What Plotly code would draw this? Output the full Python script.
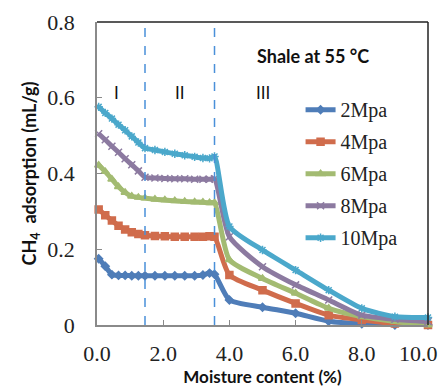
import plotly.graph_objects as go

# ---------------- data ----------------
x_low = [0.05, 0.25, 0.45, 0.65, 0.85, 1.05, 1.25, 1.45, 1.75, 2.05, 2.35, 2.65, 2.95, 3.2, 3.4, 3.55]
x_high = [4.0, 5.0, 6.0, 7.0, 8.0, 9.0, 10.0]

y_2 = [0.175, 0.155, 0.133, 0.131, 0.131, 0.13, 0.13, 0.13, 0.13, 0.13, 0.13, 0.13, 0.13, 0.132, 0.137, 0.134,
       0.066, 0.047, 0.031, 0.010, 0.003, 0.0, 0.0]
y_4 = [0.305, 0.29, 0.276, 0.262, 0.252, 0.245, 0.240, 0.237, 0.235, 0.234, 0.233, 0.233, 0.233, 0.233, 0.234, 0.233,
       0.132, 0.092, 0.057, 0.026, 0.013, 0.004, 0.0]
y_6 = [0.422, 0.405, 0.385, 0.365, 0.350, 0.340, 0.337, 0.335, 0.332, 0.330, 0.328, 0.326, 0.325, 0.324, 0.323, 0.323,
       0.172, 0.123, 0.084, 0.044, 0.022, 0.009, 0.0]
y_8 = [0.505, 0.489, 0.472, 0.456, 0.439, 0.423, 0.407, 0.390, 0.388, 0.387, 0.386, 0.386, 0.385, 0.385, 0.385, 0.386,
       0.233, 0.154, 0.106, 0.066, 0.026, 0.015, 0.009]
y_10 = [0.576, 0.560, 0.545, 0.529, 0.514, 0.498, 0.482, 0.467, 0.462, 0.457, 0.452, 0.448, 0.444, 0.441, 0.440, 0.445,
        0.260, 0.198, 0.145, 0.092, 0.044, 0.022, 0.020]

series_names = ["2Mpa", "4Mpa", "6Mpa", "8Mpa", "10Mpa"]
series_values = [y_2, y_4, y_6, y_8, y_10]

x_ticks = [0, 2, 4, 6, 8, 10]
x_ticklabels = ["0.0", "2.0", "4.0", "6.0", "8.0", "10.0"]
y_ticks = [0, 0.2, 0.4, 0.6, 0.8]
y_ticklabels = ["0", "0.2", "0.4", "0.6", "0.8"]

boundaries = [1.45, 3.55]
region_labels = ["I", "II", "III"]
region_x = [0.6, 2.5, 5.0]

# ---------------- style ----------------
colors = ["#4F7DB8", "#D06C4C", "#A3BB72", "#8C7AA0", "#4BA8CB"]
symbols = ["diamond", "square", "triangle-up", "x-thin-open", "asterisk-open"]
msizes = [6, 7, 7, 7, 7]

xs = x_low + x_high
fig = go.Figure()
for name, ys, c, s, ms in zip(series_names, series_values, colors, symbols, msizes):
    fig.add_trace(go.Scatter(
        x=xs, y=ys, name=name, mode="lines+markers", legendgroup=name,
        line=dict(color=c, width=5, shape="spline", smoothing=0.6),
        marker=dict(symbol=s, size=ms, color=c, line=dict(color=c, width=1.5)),
        cliponaxis=False,
    ))

for b in boundaries:
    fig.add_shape(type="line", xref="x", yref="y", x0=b, x1=b, y0=0, y1=0.8,
                  line=dict(color="#4A90D9", width=1.5, dash="dash"))

for lab, rx in zip(region_labels, region_x):
    fig.add_annotation(x=rx, y=0.615, xref="x", yref="y", text=lab, showarrow=False,
                       font=dict(family="Lato", size=17, color="#111"))

fig.add_annotation(x=0.653, y=0.93, xref="paper", yref="paper", text="<b>Shale at 55 °C</b>",
                   showarrow=False, font=dict(family="Lato", size=18, color="#111"))

# the last x tick label sits at the right edge of the picture: keep it fully inside
tick_font = dict(family="Liberation Serif", size=22, color="#222")
shown_ticktext = x_ticklabels[:-1] + [""]
fig.add_annotation(x=x_ticks[-1], y=0, xref="x", yref="y", text=x_ticklabels[-1],
                   showarrow=False, xanchor="right", yanchor="top", xshift=12, yshift=-14,
                   font=tick_font)

# black top/right border
fig.add_shape(type="line", xref="paper", yref="paper", x0=0, x1=1, y0=1, y1=1,
              line=dict(color="#222", width=1.5))
fig.add_shape(type="line", xref="paper", yref="paper", x0=1, x1=1, y0=0, y1=1,
              line=dict(color="#222", width=1.5))

fig.update_layout(
    width=441, height=391,
    margin=dict(l=97, r=13, t=22, b=66),
    plot_bgcolor="white", paper_bgcolor="white",
    showlegend=True,
    legend=dict(x=0.615, y=0.775, xanchor="left", yanchor="top",
                font=dict(family="Liberation Serif", size=20, color="#222"),
                bgcolor="rgba(0,0,0,0)", tracegroupgap=3),
    xaxis=dict(range=[0, 10], tickvals=x_ticks, ticktext=shown_ticktext,
               ticks="inside", ticklen=5, tickcolor="#8a8a8a", automargin=False,
               showline=True, linecolor="#8a8a8a", linewidth=1.5, showgrid=False, zeroline=False,
               tickfont=tick_font,
               ticklabelstandoff=8, ticklabeloverflow="allow",
               title=dict(text="<b>Moisture content (%)</b>", standoff=4,
                          font=dict(family="Lato", size=17, color="#111"))),
    yaxis=dict(range=[0, 0.8], tickvals=y_ticks, ticktext=y_ticklabels,
               ticks="inside", ticklen=5, tickcolor="#8a8a8a", automargin=False,
               showline=True, linecolor="#8a8a8a", linewidth=1.5, showgrid=False, zeroline=False,
               tickfont=tick_font,
               ticklabelstandoff=16,
               title=dict(text="<b>CH<sub>4</sub>  adsorption (mL/g)</b>", standoff=6,
                          font=dict(family="Lato", size=18, color="#111"))),
)

fig.write_html("out.html")
